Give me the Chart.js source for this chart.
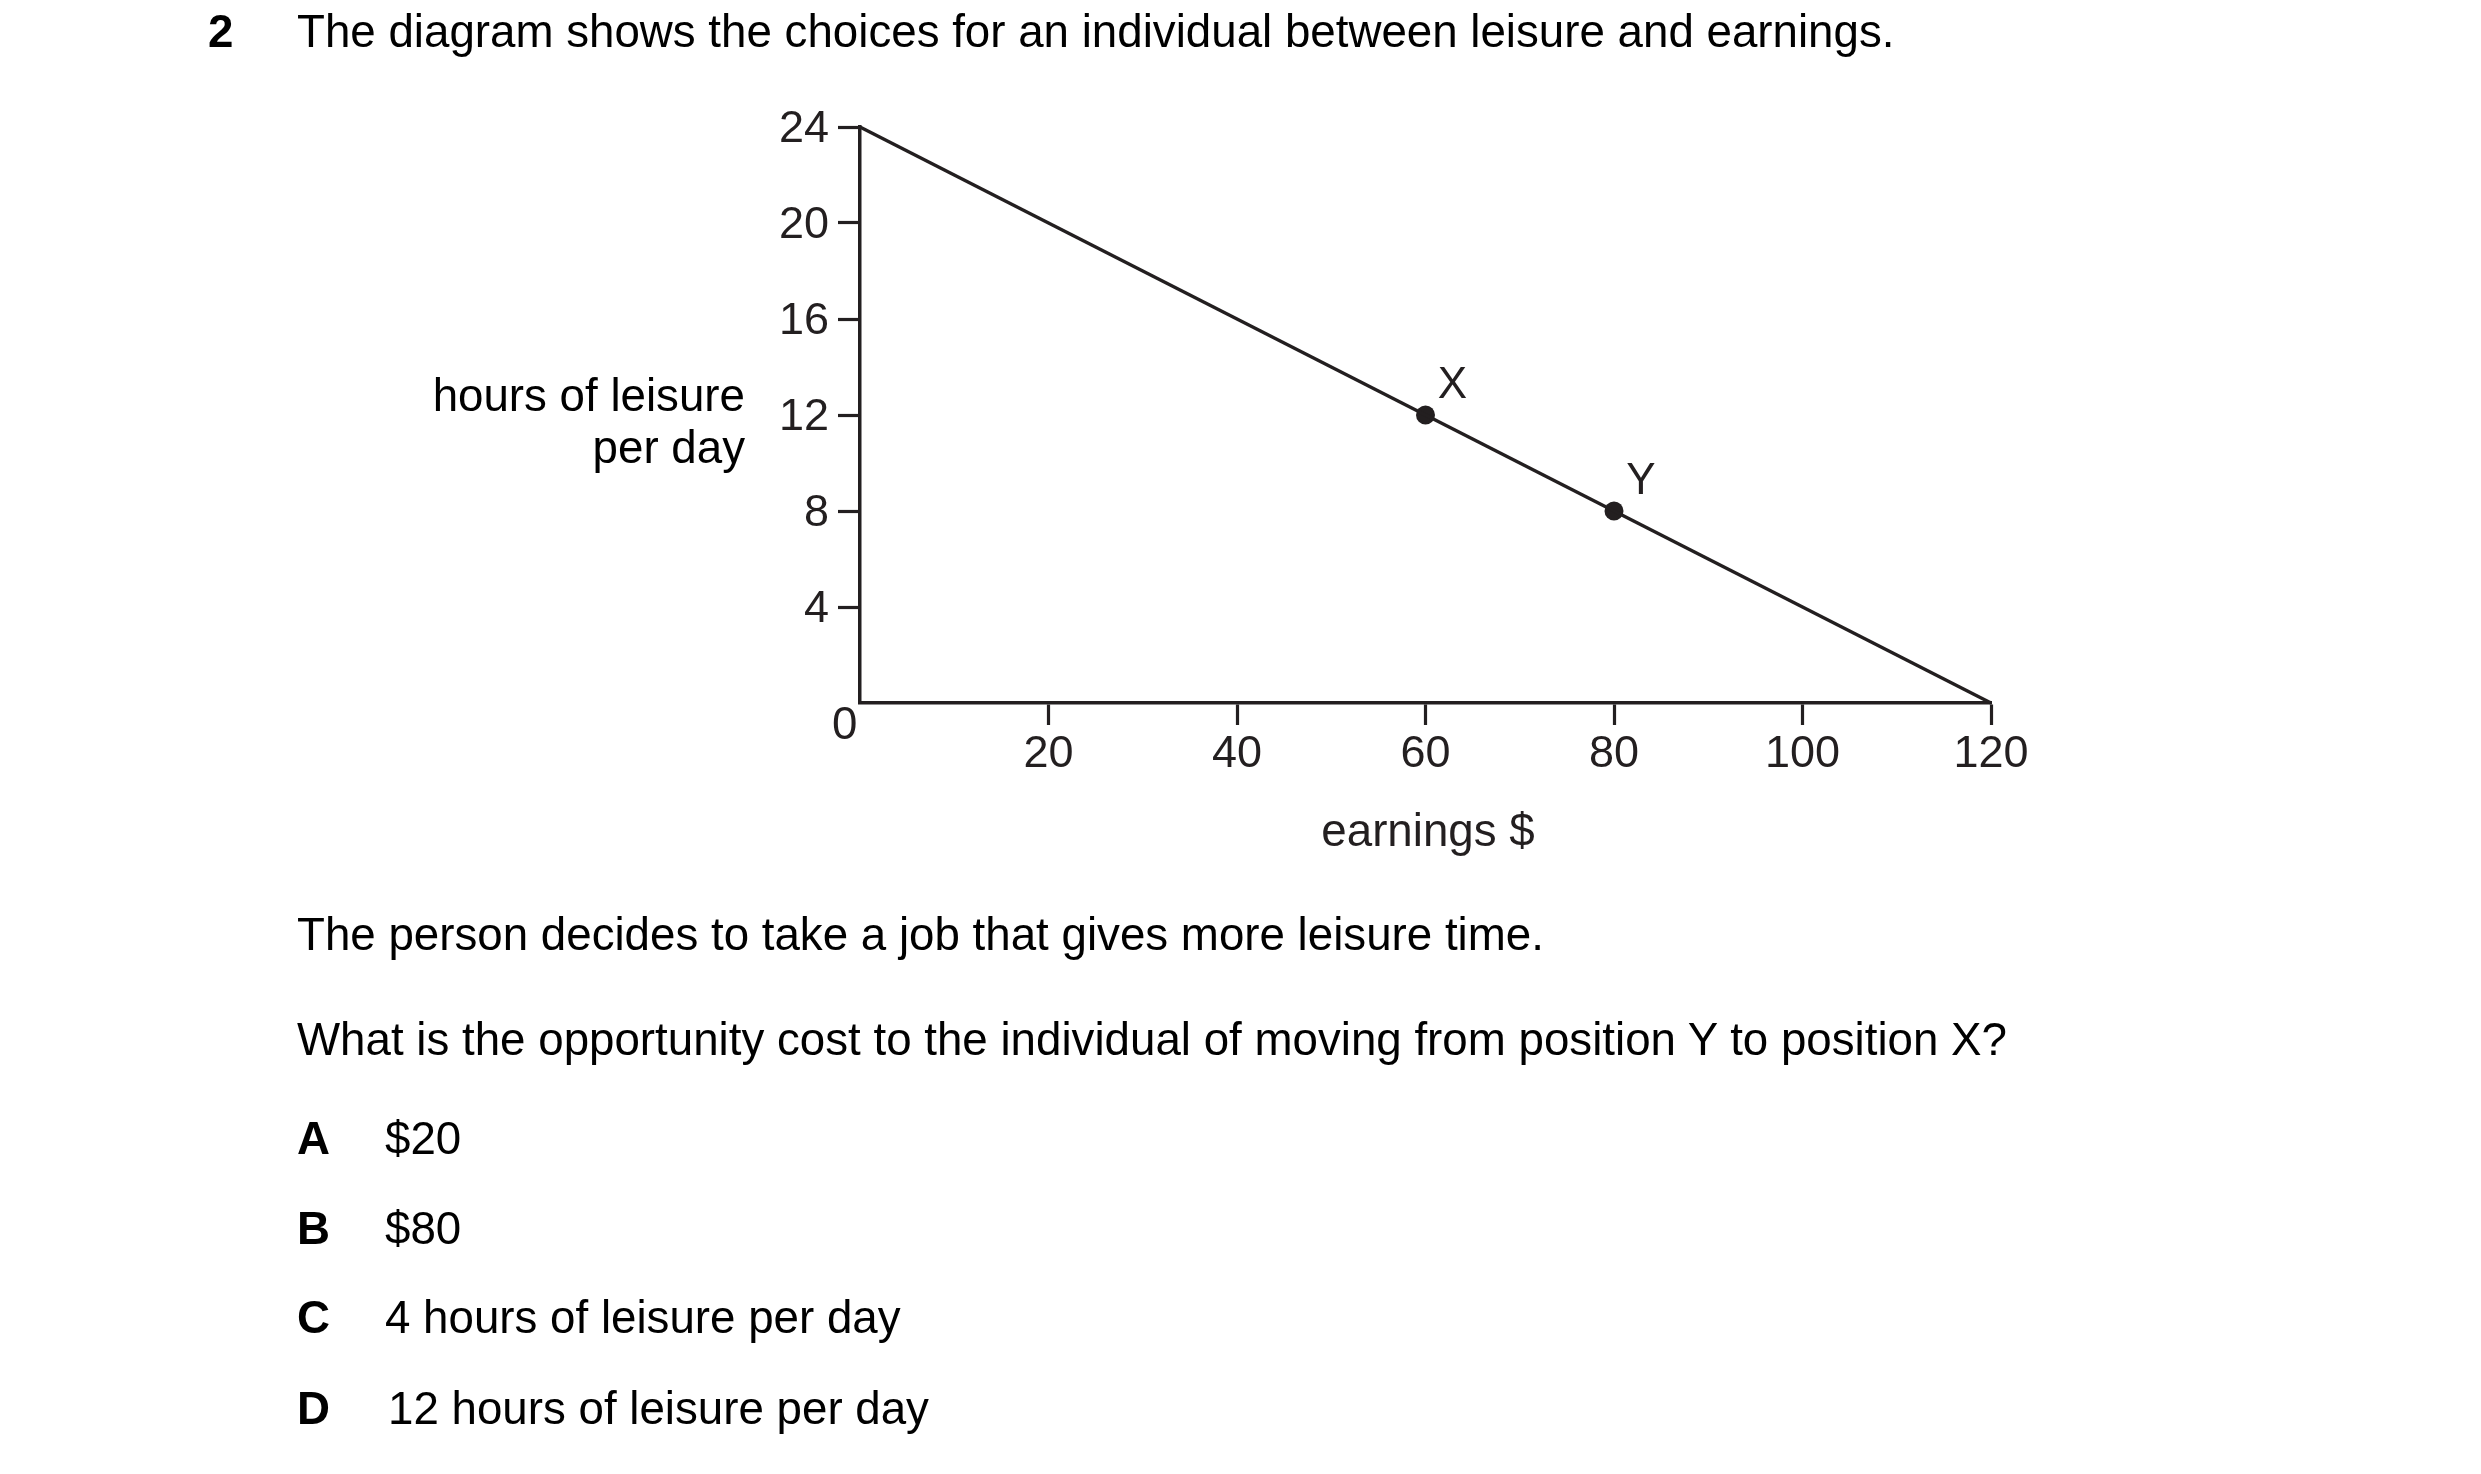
<!DOCTYPE html>
<html>
<head>
<meta charset="utf-8">
<script src="https://cdn.jsdelivr.net/npm/chart.js@4"></script>
<style>
  html, body { margin: 0; padding: 0; background: #fff; }
  body { width: 2481px; height: 1474px; position: relative; overflow: hidden;
         font-family: "Liberation Sans", Arial, sans-serif; color: #000; }
  #leisureChart { position: absolute; left: 0; top: 0; }
  .t { position: absolute; font-size: 45.7px; line-height: 1; white-space: nowrap; }
  .b { font-weight: bold; }
</style>
</head>
<body>
<canvas id="leisureChart" width="2481" height="1474"></canvas>

<div class="t b" style="left:208px; top:9px;">2</div>
<div class="t" style="left:297px; top:9px;">The diagram shows the choices for an individual between leisure and earnings.</div>

<div class="t" style="right:1736px; top:370px; text-align:right; line-height:52px;">hours of leisure<br>per day</div>
<div class="t" style="left:832px; top:701px; color:#231f20;">0</div>
<div class="t" style="left:1428px; top:808px; transform:translateX(-50%); color:#231f20;">earnings $</div>

<div class="t" style="left:297px; top:912px;">The person decides to take a job that gives more leisure time.</div>
<div class="t" style="left:297px; top:1017px;">What is the opportunity cost to the individual of moving from position Y to position X?</div>

<div class="t b" style="left:297px; top:1116px;">A</div><div class="t" style="left:385px; top:1116px;">$20</div>
<div class="t b" style="left:297px; top:1206px;">B</div><div class="t" style="left:385px; top:1206px;">$80</div>
<div class="t b" style="left:297px; top:1295px;">C</div><div class="t" style="left:385px; top:1295px;">4 hours of leisure per day</div>
<div class="t b" style="left:297px; top:1386px;">D</div><div class="t" style="left:388px; top:1386px;">12 hours of leisure per day</div>

<script>
// budget line between leisure and earnings
var lineEarnings = [0, 120];
var lineLeisure = [24, 0];

// marked positions on the line
var pointLabels = ['X', 'Y'];
var pointEarnings = [60, 80];
var pointLeisure = [12, 8];

var xTicks = [20, 40, 60, 80, 100, 120];
var yTicks = [4, 8, 12, 16, 20, 24];

var ink = '#231f20';

function pairs(xs, ys) {
    return xs.map(function (x, i) { return { x: x, y: ys[i] }; });
}

function hideZeroTick(ctx) {
    return ctx.tick && ctx.tick.value === 0 ? 'rgba(0,0,0,0)' : ink;
}

var pointLabelPlugin = {
    id: 'pointLabelPlugin',
    afterDatasetsDraw: function (chart) {
        var c = chart.ctx;
        var xs = chart.scales.x, ys = chart.scales.y;
        c.save();
        c.fillStyle = ink;
        c.font = '44px "Liberation Sans", Arial, sans-serif';
        c.textAlign = 'center';
        c.textBaseline = 'middle';
        pointLabels.forEach(function (lab, i) {
            var px = xs.getPixelForValue(pointEarnings[i]);
            var py = ys.getPixelForValue(pointLeisure[i]);
            c.fillText(lab, px + 27, py - 29);
        });
        c.restore();
    }
};

var canvas = document.getElementById('leisureChart');
var chart = new Chart(canvas.getContext('2d'), {
    type: 'scatter',
    data: {
        datasets: [{
            data: pairs(lineEarnings, lineLeisure),
            showLine: true,
            borderColor: ink,
            borderWidth: 3.4,
            pointRadius: 0,
            clip: false
        }, {
            data: pairs(pointEarnings, pointLeisure),
            showLine: false,
            pointRadius: 9.5,
            pointBackgroundColor: ink,
            pointBorderWidth: 0,
            clip: false
        }]
    },
    options: {
        responsive: false,
        devicePixelRatio: 1,
        animation: false,
        events: [],
        layout: { padding: { left: 760, right: 490, top: 127, bottom: 671 } },
        plugins: { legend: { display: false }, tooltip: { enabled: false } },
        scales: {
            x: {
                type: 'linear',
                min: 0,
                max: 120,
                afterFit: function (s) { s.height = 100; },
                afterBuildTicks: function (s) {
                    s.ticks = [0].concat(xTicks).map(function (v) { return { value: v }; });
                },
                ticks: {
                    color: ink,
                    padding: 3,
                    font: { family: '"Liberation Sans", Arial, sans-serif', size: 45 },
                    callback: function (v) { return v === 0 ? '' : String(v); }
                },
                grid: { drawOnChartArea: false, tickLength: 22, tickWidth: 3.2, tickColor: hideZeroTick },
                border: { display: true, color: ink, width: 3.5 }
            },
            y: {
                type: 'linear',
                min: 0,
                max: 24,
                afterFit: function (s) { s.width = 100; },
                afterBuildTicks: function (s) {
                    s.ticks = [0].concat(yTicks).map(function (v) { return { value: v }; });
                },
                ticks: {
                    color: ink,
                    padding: 9,
                    labelOffset: 3,
                    font: { family: '"Liberation Sans", Arial, sans-serif', size: 45 },
                    callback: function (v) { return v === 0 ? '' : String(v); }
                },
                grid: { drawOnChartArea: false, tickLength: 22, tickWidth: 3.2, tickColor: hideZeroTick },
                border: { display: true, color: ink, width: 3.5 }
            }
        }
    },
    plugins: [pointLabelPlugin]
});
</script>
</body>
</html>
